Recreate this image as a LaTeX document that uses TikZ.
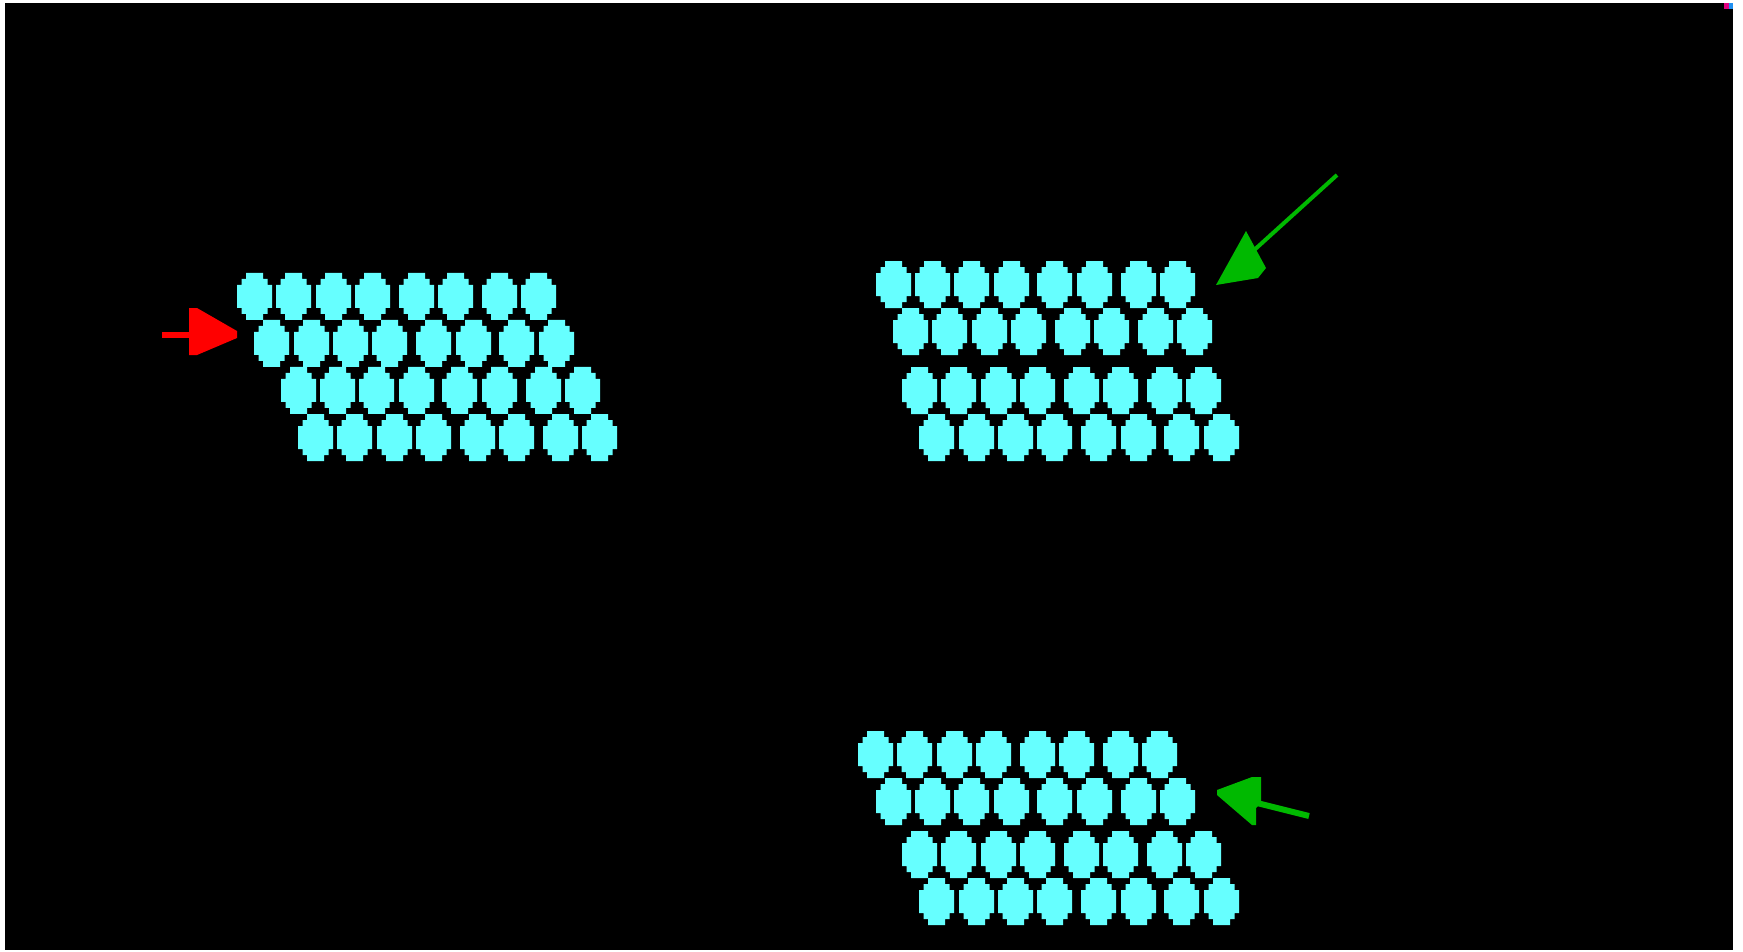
\documentclass[tikz,border=0pt]{standalone}
\definecolor{cellc}{HTML}{66FFFF}
\definecolor{arrred}{HTML}{FF0000}
\definecolor{arrgreen}{HTML}{00B900}
\definecolor{pixmag}{HTML}{E0007F}
\definecolor{pixblue}{HTML}{2090F0}
\tikzset{
  cell/.pic={\fill[cellc] (-8.5,-23.5) -- (8.5,-23.5) -- (8.5,-17.5) -- (13,-17.5) -- (13,-11.5) -- (17.5,-11.5) -- (17.5,11.5) -- (13,11.5) -- (13,17.5) -- (8.5,17.5) -- (8.5,23.5) -- (-8.5,23.5) -- (-8.5,17.5) -- (-13,17.5) -- (-13,11.5) -- (-17.5,11.5) -- (-17.5,-11.5) -- (-13,-11.5) -- (-13,-17.5) -- (-8.5,-17.5) -- cycle;},
}
\begin{document}
\begin{tikzpicture}[x=1pt,y=-1pt]
\useasboundingbox (0,0) rectangle (1743,951);
\fill[white] (0,0) rectangle (1743,951);
\fill[black] (5,3) rectangle (1733,950);
\fill[pixmag] (1724,3) rectangle (1729,9);
\fill[pixblue] (1729,3) rectangle (1733,9);
% group 1
\foreach \x in {254.7,293.5,333.5,372.5,416.5,455.5,499.5,538.5} \pic at (\x,296.3) {cell};
\foreach \x in {271.5,311.5,350.5,389.5,433.5,473.5,516.5,556.5} \pic at (\x,343.3) {cell};
\foreach \x in {298.5,337.5,376.5,416.5,459.5,499.5,543.5,582.5} \pic at (\x,390.3) {cell};
\foreach \x in {315.5,354.5,394.5,433.5,477.5,516.5,560.5,599.5} \pic at (\x,437.5) {cell};
% group 2
\foreach \x in {893.5,932.5,971.5,1011.5,1054.5,1094.5,1138.5,1177.5} \pic at (\x,284.5) {cell};
\foreach \x in {910.5,949.5,989.5,1028.5,1072.5,1111.5,1155.5,1194.5} \pic at (\x,331.5) {cell};
\foreach \x in {919.5,958.5,998.5,1037.5,1081.5,1120.5,1164.5,1203.5} \pic at (\x,390.5) {cell};
\foreach \x in {936.5,976.5,1015.5,1054.5,1098.5,1138.5,1181.5,1221.5} \pic at (\x,437.5) {cell};
% group 3
\foreach \x in {875.5,914.5,954.5,993.5,1037.5,1076.5,1120.5,1159.5} \pic at (\x,754.5) {cell};
\foreach \x in {893.5,932.5,971.5,1011.5,1054.5,1094.5,1138.5,1177.5} \pic at (\x,801.5) {cell};
\foreach \x in {919.5,958.5,998.5,1037.5,1081.5,1120.5,1164.5,1203.5} \pic at (\x,854.5) {cell};
\foreach \x in {936.5,976.5,1015.5,1054.5,1098.5,1138.5,1181.5,1221.5} \pic at (\x,901.5) {cell};
% red arrow
\fill[arrred] (162,332) rectangle (190,338);
\fill[arrred] (189,308) -- (197,308) -- (237,331) -- (237,338) -- (197,355) -- (189,355) -- cycle;
% green arrow top
\draw[arrgreen, line width=4] (1337,175) -- (1252,252);
\fill[arrgreen] (1216,285) -- (1246,231) -- (1266,268) -- (1258,278) -- cycle;
% green arrow bottom
\draw[arrgreen, line width=6] (1257,803) -- (1309,816);
\fill[arrgreen] (1217,790) -- (1252,777) -- (1261,777) -- (1261,803) -- (1256,808) -- (1256,825) -- (1252,825) -- (1217,795) -- cycle;
\end{tikzpicture}
\end{document}
